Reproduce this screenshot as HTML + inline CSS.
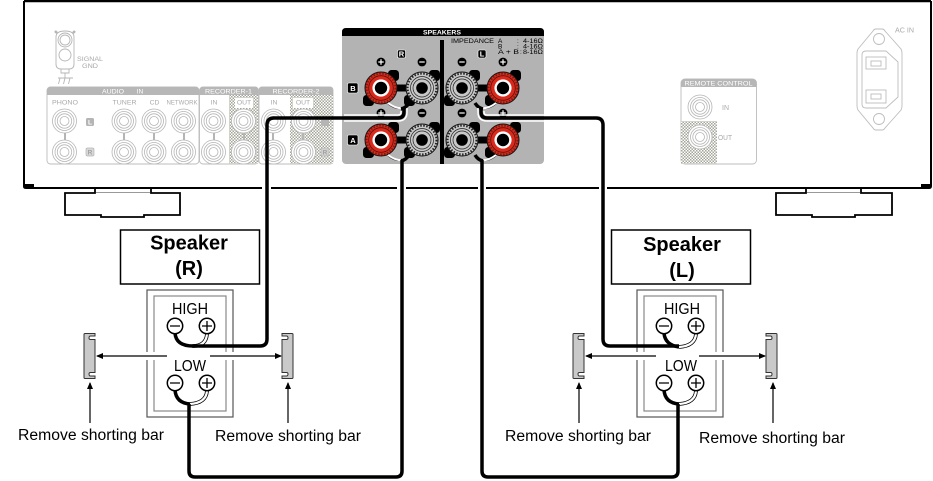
<!DOCTYPE html>
<html><head><meta charset="utf-8"><style>
html,body{margin:0;padding:0;background:#fff}
svg{display:block}
text{font-family:"Liberation Sans",sans-serif}
</style></head><body>
<svg width="933" height="481" viewBox="0 0 933 481" xmlns="http://www.w3.org/2000/svg">
<defs>
<pattern id="chk" width="3" height="3" patternUnits="userSpaceOnUse"><rect width="3" height="3" fill="#fff"/><rect width="1.5" height="1.5" fill="#a5a59a"/><rect x="1.5" y="1.5" width="1.5" height="1.5" fill="#a5a59a"/></pattern>
<g id="rca" fill="none" stroke="#b5b5b5" stroke-width=".8"><circle r="12" fill="#fff"/><circle r="9.5"/><circle r="7.2"/><circle r="4.5"/></g>
<g id="ears" fill="#000"><rect x="7" y="-18" width="11" height="11" rx="3.5"/><rect x="-18" y="7" width="11" height="11" rx="3.5"/></g>
<g id="red"><use href="#ears"/><circle r="16" fill="#d92a1c" stroke="#111" stroke-width="1"/><circle r="14.4" fill="none" stroke="#7c1b12" stroke-width="2" stroke-dasharray="1.5 1.5"/><circle r="12.3" fill="none" stroke="#5c120c" stroke-width=".8"/><circle r="8.600" fill="#fff"/><circle r="6.200" fill="#000"/></g>
<g id="gry"><use href="#ears"/><circle r="16" fill="#c8c8c8" stroke="#111" stroke-width="1"/><circle r="14.4" fill="none" stroke="#222" stroke-width="2" stroke-dasharray="1.5 1.5"/><circle r="11.500" fill="#c8c8c8" stroke="#222" stroke-width=".7"/><circle r="9" fill="none" stroke="#222" stroke-width=".7"/><circle r="5.800" fill="#000"/></g>
<g id="plus"><circle r="4.4" fill="#000"/><path d="M-2.7 0H2.7M0-2.7V2.7" stroke="#fff" stroke-width="1.2"/></g>
<g id="minus"><circle r="4.4" fill="#000"/><path d="M-2.7 0H2.7" stroke="#fff" stroke-width="1.2"/></g>
<g id="bar"><path d="M1 0H11V2.500H6.500Q5 2.500 5 4.500Q5 6 6.500 6H11V39H6.500Q5 39 5 40.500Q5 42.500 6.500 42.500H11V45H1Q0 45 0 44V1Q0 0 1 0Z" fill="#c9c9c9" stroke="#333" stroke-width="1"/></g>
<g id="barR"><path d="M10 0H0V2.500H4.500Q6 2.500 6 4.500Q6 6 4.500 6H0V39H4.500Q6 39 6 40.500Q6 42.500 4.500 42.500H0V45H10Q11 45 11 44V1Q11 0 10 0Z" fill="#c9c9c9" stroke="#333" stroke-width="1"/></g>
<g id="body" fill="none" stroke="#555" stroke-width="1.2">
<rect x="0" y="0" width="86" height="127" fill="#fff"/>
<rect x="7" y="6" width="72" height="115" stroke="#888"/>
</g>
<g id="term"><circle r="7.700" fill="#fff" stroke="#000" stroke-width="1.500"/></g>
<marker id="ah" markerWidth="7" markerHeight="6" refX="6" refY="3" orient="auto" markerUnits="userSpaceOnUse"><path d="M0 0L7 3L0 6Z" fill="#000"/></marker>
</defs>

<!-- chassis -->
<path d="M24 1V186.500Q24 188 26 188H929Q931 188 931 186V1" fill="none" stroke="#000" stroke-width="2"/>
<path d="M24 1H931" stroke="#000" stroke-width="2.500"/>
<rect x="25" y="184" width="9" height="3" fill="#000"/><rect x="921" y="184" width="9" height="3" fill="#000"/>
<!-- gaps in chassis line where cables cross -->
<rect x="262" y="186" width="9" height="4" fill="#fff"/><rect x="397" y="186" width="9" height="4" fill="#fff"/>
<rect x="478" y="186" width="8" height="4" fill="#fff"/><rect x="599" y="186" width="8" height="4" fill="#fff"/>
<!-- feet -->
<g fill="none" stroke="#000" stroke-width="1.800">
<path d="M95 188V193H65V215H101V217H144V215H180V193H151V188"/>
<path d="M806 188V193H776V215H812V217H855V215H892V193H861V188"/>
</g>
<path d="M96 192.500H150M807 192.500H860" stroke="#999" stroke-width="1"/>

<!-- signal gnd -->
<g fill="none" stroke="#b5b5b5" stroke-width=".9">
<path d="M56 37V64Q56 69 61 69H69Q74 69 74 64V37Q74 31 65 31Q56 31 56 37Z" fill="#fff"/>
<circle cx="65" cy="40" r="7"/><circle cx="65" cy="40" r="5"/><circle cx="65" cy="55" r="6"/>
<path d="M57 33L55 31M73 33L75 31" stroke-width="2.500"/>
<path d="M61 69V73H69V69M65 73V78M58 78H73M60 78L58.500 84M65 78L63.500 84M70 78L68.500 84"/>
</g>
<text x="77" y="61" font-size="6.800" fill="#a8a8a8" textLength="26" lengthAdjust="spacingAndGlyphs">SIGNAL</text>
<text x="82" y="68" font-size="6.800" fill="#a8a8a8" textLength="16" lengthAdjust="spacingAndGlyphs">GND</text>

<!-- audio panels -->
<g fill="#fff" stroke="#bdbdbd" stroke-width=".9">
<rect x="47" y="87" width="152" height="77" rx="3.500"/>
<rect x="199.500" y="87" width="59" height="77" rx="3.500"/>
<rect x="259" y="87" width="74" height="77" rx="3"/>
</g>
<rect x="229" y="95" width="29" height="69" fill="url(#chk)"/>
<rect x="290" y="95" width="43" height="69" fill="url(#chk)"/>
<rect x="235" y="98" width="18" height="10" fill="#fff"/><rect x="293" y="98" width="20" height="10" fill="#fff"/>
<path d="M47 95V90.500Q47 87 50.500 87H195.500Q199 87 199 90.500V95Z" fill="#b7b7b7"/>
<path d="M199.500 95V90.500Q199.500 87 203 87H255Q258.500 87 258.500 90.500V95Z" fill="#b7b7b7"/>
<path d="M259 95V90Q259 87 262 87H330Q333 87 333 90V95Z" fill="#b7b7b7"/>
<g font-size="6.500" fill="#fff" text-anchor="middle">
<text x="113" y="93.500" textLength="22" lengthAdjust="spacingAndGlyphs">AUDIO</text><text x="140" y="93.500">IN</text>
<text x="228.500" y="93.500" textLength="47" lengthAdjust="spacingAndGlyphs">RECORDER-1</text>
<text x="296" y="93.500" textLength="47" lengthAdjust="spacingAndGlyphs">RECORDER-2</text>
</g>
<g font-size="6.800" fill="#a9a9a9" text-anchor="middle">
<text x="65" y="104.500" textLength="26" lengthAdjust="spacingAndGlyphs">PHONO</text><text x="124.500" y="104.500" textLength="24" lengthAdjust="spacingAndGlyphs">TUNER</text><text x="154.500" y="104.500">CD</text><text x="182" y="104.500" textLength="31" lengthAdjust="spacingAndGlyphs">NETWORK</text>
<text x="214" y="104.500">IN</text><text x="244" y="104.500">OUT</text><text x="274" y="104.500">IN</text><text x="303" y="104.500">OUT</text>
</g>
<g stroke="#b5b5b5" stroke-width="2">
<path d="M65 130V142M124 130V142M154 130V142M184 130V142M214 130V142M244 130V142M273 130V142M303 130V142"/>
</g>
<use href="#rca" x="64.500" y="121"/><use href="#rca" x="64.500" y="152"/>
<use href="#rca" x="124" y="121"/><use href="#rca" x="124" y="152"/>
<use href="#rca" x="154" y="121"/><use href="#rca" x="154" y="152"/>
<use href="#rca" x="183.500" y="121"/><use href="#rca" x="183.500" y="152"/>
<use href="#rca" x="213.500" y="121"/><use href="#rca" x="213.500" y="152"/>
<use href="#rca" x="243.500" y="121"/><use href="#rca" x="243.500" y="152"/>
<use href="#rca" x="273.500" y="121"/><use href="#rca" x="273.500" y="152"/>
<use href="#rca" x="303.500" y="121"/><use href="#rca" x="303.500" y="152"/>
<rect x="86" y="118" width="8" height="8" rx="1.500" fill="#b5b5b5"/>
<rect x="86" y="148" width="8" height="8" rx="1.500" fill="#d8d8d8" stroke="#b5b5b5" stroke-width=".7"/>
<rect x="321" y="118" width="8" height="8" rx="1.500" fill="#b5b5b5"/>
<rect x="321" y="148" width="8" height="8" rx="1.500" fill="#d0d0d0" stroke="#b5b5b5" stroke-width=".7"/>
<text x="90" y="124.500" font-size="6.500" font-weight="bold" fill="#fff" text-anchor="middle">L</text>
<text x="90" y="154.500" font-size="6.500" font-weight="bold" fill="#a0a0a0" text-anchor="middle">R</text>
<text x="325" y="154.500" font-size="6.500" font-weight="bold" fill="#a0a0a0" text-anchor="middle">R</text>

<!-- speakers panel -->
<rect x="342" y="28" width="202" height="136" rx="4" fill="#b3b3b3"/>
<path d="M342 36V32Q342 28 346 28H540Q544 28 544 32V36Z" fill="#000"/>
<text x="442" y="34.500" font-size="6.800" font-weight="bold" fill="#fff" text-anchor="middle" textLength="38" lengthAdjust="spacingAndGlyphs">SPEAKERS</text>
<rect x="440" y="40" width="4" height="124" fill="#000"/>
<g font-size="6.500" fill="#000">
<text x="451" y="43" textLength="43" lengthAdjust="spacingAndGlyphs">IMPEDANCE</text><text x="498" y="43">A</text><text x="517" y="43">:</text><text x="523" y="43" textLength="20" lengthAdjust="spacingAndGlyphs">4-16Ω</text>
<text x="498" y="48.500">B</text><text x="517" y="48.500">:</text><text x="523" y="48.500" textLength="20" lengthAdjust="spacingAndGlyphs">4-16Ω</text>
<text x="498" y="54" textLength="21" lengthAdjust="spacingAndGlyphs">A + B</text><text x="520" y="54">:</text><text x="523" y="54" textLength="20" lengthAdjust="spacingAndGlyphs">8-16Ω</text>
</g>
<g fill="#000" stroke="#fff" stroke-width=".6">
<rect x="397.500" y="50" width="8" height="8" rx="1.500"/><rect x="478" y="50" width="8" height="8" rx="1.500"/>
<rect x="347.500" y="83" width="10.500" height="10" rx="1.500"/><rect x="347.500" y="135" width="10.500" height="10" rx="1.500"/>
</g>
<g font-size="7.500" font-weight="bold" fill="#fff" text-anchor="middle">
<text x="401.500" y="56.700">R</text><text x="482" y="56.700">L</text><text x="353" y="91">B</text><text x="353" y="143">A</text>
</g>
<use href="#plus" x="381" y="62"/><use href="#minus" x="422" y="62"/><use href="#minus" x="462" y="62"/><use href="#plus" x="503" y="62"/>
<use href="#plus" x="381" y="113"/><use href="#minus" x="422" y="113"/><use href="#minus" x="462" y="113"/><use href="#plus" x="503" y="113"/>
<path d="M381 88H422M462 88H503M381 140H422M462 140H503" stroke="#000" stroke-width="7"/>
<use href="#red" x="381" y="88"/><use href="#gry" x="422" y="88"/><use href="#gry" x="462" y="88"/><use href="#red" x="503" y="88"/>
<use href="#red" x="381" y="140"/><use href="#gry" x="422" y="140"/><use href="#gry" x="462" y="140"/><use href="#red" x="503" y="140"/>

<!-- remote control -->
<rect x="681" y="79" width="75.500" height="85" rx="4" fill="#fff" stroke="#bdbdbd" stroke-width=".9"/>
<path d="M681 87V83Q681 79 685 79H752.500Q756.500 79 756.500 83V87Z" fill="#b7b7b7"/>
<text x="718.500" y="85.500" font-size="6.500" fill="#fff" text-anchor="middle" textLength="68" lengthAdjust="spacingAndGlyphs">REMOTE CONTROL</text>
<rect x="681" y="121" width="36" height="43" fill="url(#chk)"/>
<use href="#rca" x="700" y="107"/><use href="#rca" x="700" y="137"/>
<text x="722" y="110" font-size="7" fill="#a9a9a9">IN</text><text x="718" y="140" font-size="7" fill="#a9a9a9" textLength="14" lengthAdjust="spacingAndGlyphs">OUT</text>

<!-- AC in -->
<g fill="none" stroke="#bdbdbd" stroke-width=".9">
<path d="M858 49L873 31Q874 29 876 29H882Q884 29 885 31L901 49Q902 51 902 53V106Q902 108 901 110L885 128Q884 130 882 130H876Q874 130 873 128L858 110Q857 108 857 106V53Q857 51 858 49Z"/>
<circle cx="879" cy="39" r="5.500"/><circle cx="879" cy="119" r="5.500"/>
<path d="M866 51H886L898 62V97L886 108H866Q862 108 862 104V55Q862 51 866 51Z"/>
<rect x="866" y="57" width="20" height="12"/><rect x="871" y="61" width="10" height="5"/>
<rect x="866" y="90" width="20" height="13"/><rect x="871" y="94" width="10" height="5"/>
</g>
<text x="895" y="32.500" font-size="7" fill="#a9a9a9" textLength="19" lengthAdjust="spacingAndGlyphs">AC IN</text>

<!-- speaker bodies -->
<use href="#body" x="147" y="290"/><use href="#body" x="637" y="290"/>
<!-- gaps for arrows -->
<rect x="145" y="352" width="90" height="8" fill="#fff"/><rect x="635" y="352" width="90" height="8" fill="#fff"/>

<!-- boxes -->
<g fill="#fff" stroke="#000" stroke-width="1.500">
<rect x="120.500" y="230" width="139" height="54"/><rect x="611.500" y="230" width="139" height="54"/>
</g>
<g font-size="20" font-weight="bold" fill="#000" text-anchor="middle">
<text x="189" y="249.500">Speaker</text><text x="189" y="275">(R)</text>
<text x="682" y="251">Speaker</text><text x="682" y="277">(L)</text>
</g>
<g font-size="15.500" fill="#000" text-anchor="middle">
<text x="190" y="314" textLength="36" lengthAdjust="spacingAndGlyphs">HIGH</text><text x="190" y="371" textLength="32" lengthAdjust="spacingAndGlyphs">LOW</text>
<text x="682" y="314" textLength="36" lengthAdjust="spacingAndGlyphs">HIGH</text><text x="681" y="371" textLength="32" lengthAdjust="spacingAndGlyphs">LOW</text>
</g>

<!-- speaker shorting wires (white) -->
<g fill="none" stroke="#000" stroke-width="3.800">
<path d="M207 334Q206 346 193 346"/><path d="M207 391Q206 403 190 404"/>
<path d="M696 334Q695 346 679 347"/><path d="M696 391Q695 403 679 404"/>
</g>
<g fill="none" stroke="#fff" stroke-width="2.200">
<path d="M207 334Q206 346 193 346"/><path d="M207 391Q206 403 190 404"/>
<path d="M696 334Q695 346 679 347"/><path d="M696 391Q695 403 679 404"/>
</g>
<g fill="none" stroke="#000" stroke-width="3.500">
<path d="M175 333Q176 346 193 346"/><path d="M175 390Q176 403 190 404"/>
<path d="M664 333Q665 345 679 347"/><path d="M664 390Q665 403 679 404"/>
</g>
<use href="#term" x="175" y="326"/><use href="#term" x="207" y="326"/><use href="#term" x="175" y="383"/><use href="#term" x="207" y="383"/>
<use href="#term" x="664" y="326"/><use href="#term" x="696" y="326"/><use href="#term" x="664" y="383"/><use href="#term" x="696" y="383"/>
<path d="M170 326H180M170 383H180M202 326H212M207 321V331M202 383H212M207 378V388M659 326H669M659 383H669M691 326H701M696 321V331M691 383H701M696 378V388" stroke="#000" stroke-width="1.300"/>

<!-- shorting bars -->
<use href="#bar" x="84" y="333.500"/><use href="#barR" x="282" y="333.500"/>
<use href="#bar" x="573" y="333.500"/><use href="#barR" x="766" y="333.500"/>

<!-- arrows -->
<g fill="none" stroke="#000" stroke-width="1.200" marker-end="url(#ah)">
<path d="M167 356H97"/><path d="M210 356H281"/>
<path d="M656 356H586"/><path d="M699 356H765"/>
<path d="M90 423V383"/><path d="M288 423V383"/>
<path d="M579 423V383"/><path d="M773 423V383"/>
</g>
<g font-size="15.500" fill="#000">
<text x="18" y="440" textLength="146" lengthAdjust="spacingAndGlyphs">Remove shorting bar</text>
<text x="215" y="441" textLength="146" lengthAdjust="spacingAndGlyphs">Remove shorting bar</text>
<text x="505" y="441" textLength="146" lengthAdjust="spacingAndGlyphs">Remove shorting bar</text>
<text x="699" y="443" textLength="146" lengthAdjust="spacingAndGlyphs">Remove shorting bar</text>
</g>

<!-- panel shorting wires -->
<g fill="none" stroke="#000" stroke-width="1">
<path d="M388 104Q396 110 402 108"/><path d="M388 156Q396 162 402 160"/>
<path d="M496 104Q488 110 482 108"/><path d="M496 156Q488 162 482 160"/>
</g>
<g fill="none" stroke="#fff" stroke-width="2">
<path d="M388 103Q396 109 403 108"/><path d="M388 155Q396 161 403 160"/>
<path d="M496 103Q488 109 482 108"/><path d="M496 155Q488 161 482 160"/>
</g>
<g fill="none" stroke="#000" stroke-width="3.500">
<path d="M409 103Q406 108 401 109"/><path d="M409 155Q406 160 401 161"/>
<path d="M475 103Q478 108 483 109"/><path d="M475 155Q478 160 483 161"/>
</g>

<!-- cables -->
<g fill="none" stroke-linejoin="round">
<path d="M407 108V112Q407 121 398 121H344" stroke="#fff" stroke-width="1.500"/>
<path d="M478 108V112Q478 121 487 121H544" stroke="#fff" stroke-width="1.500"/>
<path d="M401 111V112Q401 115 398 115H344" stroke="#fff" stroke-width="1.500"/>
<path d="M484 111V112Q484 115 487 115H544" stroke="#fff" stroke-width="1.500"/>
<g stroke="#000" stroke-width="3.500">
<path d="M404 108V112Q404 118 398 118H274Q267 118 267 125V339Q267 346 260 346H192"/>
<path d="M481 108V112Q481 118 487 118H596Q603 118 603 125V339Q603 346 610 346H679"/>
<path d="M402 160V471Q402 477 396 477H195Q189 477 189 471V404"/>
<path d="M482 160V471Q482 477 488 477H672Q678 477 678 471V404"/>
</g>
</g>
</svg>
</body></html>
